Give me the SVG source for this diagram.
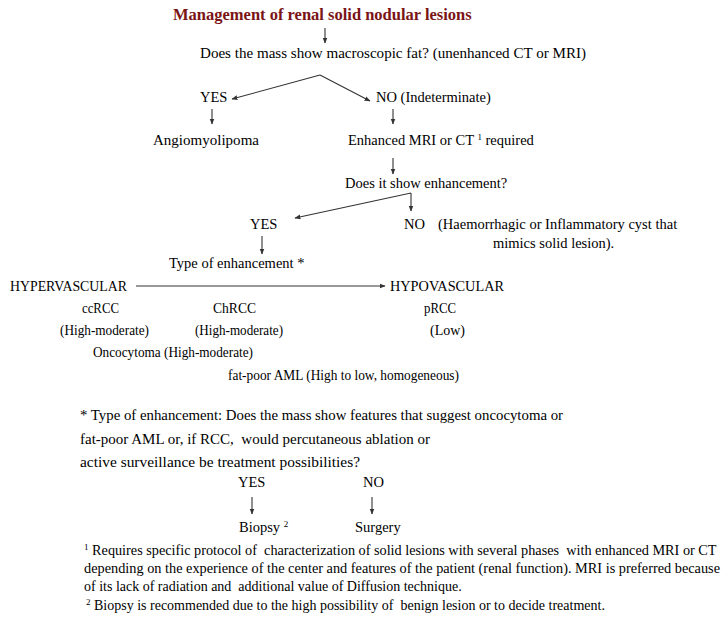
<svg xmlns="http://www.w3.org/2000/svg" width="728" height="621" viewBox="0 0 728 621">
<style>
text{font-family:"Liberation Serif","Times New Roman",serif;font-size:14.5px;fill:#000}
.title{font-size:16.5px;font-weight:bold;fill:#7a1416}
.fn{font-size:14px}
.sup{font-size:9px}
.c line,.c path{stroke:#333;stroke-width:1.1;fill:none;marker-end:url(#ah)}
</style>
<defs>
<marker id="ah" viewBox="0 0 10 10" refX="9" refY="5" markerWidth="6" markerHeight="6" markerUnits="userSpaceOnUse" orient="auto">
<path d="M0,1 L10,5 L0,9 z" fill="#333"/>
</marker>
</defs>
<rect width="728" height="621" fill="#fff"/>
<g id="title"><text class="title" x="173" y="20">Management of renal solid nodular lesions</text></g>
<g id="q-fat"><text x="200" y="58" textLength="386" lengthAdjust="spacingAndGlyphs">Does the mass show macroscopic fat? (unenhanced CT or MRI)</text></g>
<g id="yes1"><text x="200" y="102">YES</text></g>
<g id="no1"><text x="376" y="102">NO (Indeterminate)</text></g>
<g id="aml"><text x="153" y="145" textLength="106" lengthAdjust="spacingAndGlyphs">Angiomyolipoma</text></g>
<g id="enh-mri"><text x="348" y="145">Enhanced MRI or CT <tspan class="sup" dy="-5">1</tspan><tspan dy="5"> required</tspan></text></g>
<g id="q-enh"><text x="345" y="188">Does it show enhancement?</text></g>
<g id="yes2"><text x="250" y="229">YES</text></g>
<g id="no2"><text x="404" y="229">NO</text><text x="438" y="229">(Haemorrhagic or Inflammatory cyst that</text><text x="493" y="248">mimics solid lesion).</text></g>
<g id="type"><text x="169" y="268">Type of enhancement *</text></g>
<g id="hyper"><text x="10" y="291" textLength="117" lengthAdjust="spacingAndGlyphs">HYPERVASCULAR</text></g>
<g id="hypo"><text x="390" y="291" textLength="114" lengthAdjust="spacingAndGlyphs">HYPOVASCULAR</text></g>
<g id="ccrcc"><text x="82" y="313" textLength="37" lengthAdjust="spacingAndGlyphs">ccRCC</text><text x="60" y="335" textLength="89" lengthAdjust="spacingAndGlyphs">(High-moderate)</text></g>
<g id="chrcc"><text x="213" y="313" textLength="43" lengthAdjust="spacingAndGlyphs">ChRCC</text><text x="195" y="335" textLength="88" lengthAdjust="spacingAndGlyphs">(High-moderate)</text></g>
<g id="prcc"><text x="424" y="313" textLength="32" lengthAdjust="spacingAndGlyphs">pRCC</text><text x="430" y="335" textLength="35" lengthAdjust="spacingAndGlyphs">(Low)</text></g>
<g id="onco"><text x="93" y="357" textLength="160" lengthAdjust="spacingAndGlyphs">Oncocytoma (High-moderate)</text></g>
<g id="fpaml"><text x="228" y="380" textLength="231" lengthAdjust="spacingAndGlyphs">fat-poor AML (High to low, homogeneous)</text></g>
<g id="note"><text x="80" y="420" textLength="483" lengthAdjust="spacingAndGlyphs">* Type of enhancement: Does the mass show features that suggest oncocytoma or</text><text x="80" y="444" xml:space="preserve" textLength="350" lengthAdjust="spacingAndGlyphs">fat-poor AML or, if RCC,  would percutaneous ablation or</text><text x="80" y="467" textLength="280" lengthAdjust="spacingAndGlyphs">active surveillance be treatment possibilities?</text></g>
<g id="yes3"><text x="238" y="487">YES</text></g>
<g id="no3"><text x="363" y="487">NO</text></g>
<g id="biopsy"><text x="239" y="532">Biopsy <tspan class="sup" dy="-5">2</tspan></text></g>
<g id="surgery"><text x="355" y="532">Surgery</text></g>
<g id="footnotes">
<text class="fn" x="84" y="555" xml:space="preserve"><tspan class="sup" dy="-5">1</tspan><tspan dy="5" textLength="628" lengthAdjust="spacingAndGlyphs"> Requires specific protocol of  characterization of solid lesions with several phases  with enhanced MRI or CT</tspan></text>
<text class="fn" x="84" y="573" textLength="636" lengthAdjust="spacingAndGlyphs">depending on the experience of the center and features of the patient (renal function). MRI is preferred because</text>
<text class="fn" x="84" y="591" xml:space="preserve">of its lack of radiation and  additional value of Diffusion technique.</text>
<text class="fn" x="86" y="610" xml:space="preserve"><tspan class="sup" dy="-5">2</tspan><tspan dy="5"> Biopsy is recommended due to the high possibility of  benign lesion or to decide treatment.</tspan></text>
</g>
<g id="connectors" class="c">
<line x1="325" y1="28" x2="325" y2="43"/>
<path d="M320,75 L232,99"/>
<path d="M320,75 L370,101"/>
<line x1="212" y1="109" x2="212" y2="124"/>
<line x1="393" y1="109" x2="393" y2="124"/>
<line x1="393" y1="158" x2="393" y2="174"/>
<path d="M411,193 L295,218"/>
<line x1="411" y1="193" x2="411" y2="211"/>
<line x1="262" y1="236" x2="262" y2="254"/>
<line x1="136" y1="286" x2="385" y2="286"/>
<line x1="252" y1="497" x2="252" y2="514"/>
<line x1="372" y1="497" x2="372" y2="514"/>
</g>
</svg>
